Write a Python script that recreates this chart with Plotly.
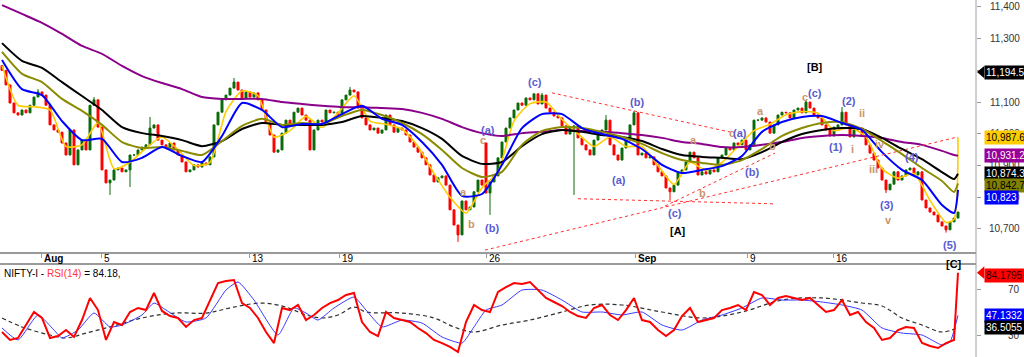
import plotly.graph_objects as go

# ---------------- data (hourly candles, index 0..239) ----------------
closes = [
    11200, 11154, 11097, 11066, 11059, 11075, 11066, 11090, 11116, 11132,
    11122, 11090, 11028, 11012, 11005, 10971, 10933, 11012, 10902, 10949,
    10980, 10949, 11090, 11107, 11021, 10886, 10845, 10854, 10886, 10892,
    10880, 10886, 10933, 10933, 10949, 10958, 10965, 11018, 11028, 10980,
    10965, 10958, 10971, 10949, 10933, 10911, 10880, 10886, 10902, 10895,
    10908, 10902, 10927, 11028, 11068, 11107, 11122, 11144, 11163, 11138,
    11113, 11132, 11116, 11129, 11107, 11075, 11034, 10996, 10942, 10949,
    11002, 11043, 11031, 11068, 11081, 11059, 11043, 10949, 11012, 11043,
    11037, 11075, 11066, 11068, 11059, 11107, 11122, 11138, 11132, 11081,
    11050, 11028, 11012, 11018, 11002, 11012, 11059, 11028, 11005, 11018,
    11012, 10996, 10974, 10958, 10942, 10924, 10902, 10870, 10848, 10861,
    10867, 10838, 10760, 10712, 10681, 10788, 10760, 10769, 10817, 10854,
    10838, 10813, 10848, 10867, 10924, 10974, 11018, 11050, 11075, 11097,
    11090, 11113, 11107, 11126, 11094, 11122, 11081, 11068, 11056, 11050,
    11025, 10999, 11018, 11025, 10987, 10965, 10949, 10933, 10980, 10996,
    11012, 11043, 10965, 10933, 10917, 10955, 10980, 11028, 11066, 10933,
    10939, 10924, 10927, 10902, 10880, 10867, 10829, 10817, 10838, 10880,
    10886, 10911, 10942, 10924, 10870, 10880, 10873, 10886, 10880, 10924,
    10933, 10955, 10949, 10971, 10965, 10980, 10949, 10965, 11043, 11043,
    11050, 11037, 11002, 11028, 11059, 11068, 11066, 11050, 11075, 11081,
    11066, 11100, 11081, 11059, 11050, 11028, 11012, 10993, 11021, 11028,
    11068, 11028, 10990, 11012, 11018, 10996, 10965, 10939, 10917, 10892,
    10854, 10823, 10841, 10880, 10854, 10867, 10886, 10892, 10870, 10880,
    10791, 10766, 10753, 10744, 10722, 10709, 10697, 10722, 10734, 10753,
]
first_open = 11215
open_override = {121: 10971}
high_override = {9: 11141, 23: 11116, 37: 11053, 58: 11176, 87: 11148, 135: 11129,
                 151: 11059, 158: 11072, 201: 11107, 210: 11084}
low_override = {27: 10807, 32: 10832, 114: 10659, 122: 10744, 143: 10807,
                167: 10791, 221: 10813, 236: 10688}

# moving averages sampled every 5 candles (+ last two)
ma_idx = list(range(0, 240, 5)) + [238, 239]
ma_blue = [11233, 11141, 11122, 11040, 10980, 10984, 10911, 10924, 10958, 10930,
           10911, 10993, 11097, 11075, 11021, 11031, 11031, 11062, 11088, 11047,
           11028, 10974, 10902, 10804, 10810, 10902, 11018, 11062, 11062, 11018,
           10999, 10984, 10952, 10902, 10876, 10886, 10898, 10930, 11006, 11037,
           11053, 11056, 11034, 11012, 10942, 10886, 10854, 10775, 10750, 10823]
ma_olive = [11258, 11189, 11163, 11110, 11072, 11028, 10974, 10955, 10958, 10946,
            10933, 10977, 11025, 11047, 11028, 11034, 11031, 11056, 11075, 11059,
            11034, 10999, 10949, 10892, 10864, 10880, 10965, 11009, 11021, 11018,
            11006, 10990, 10968, 10939, 10917, 10908, 10902, 10917, 10952, 10993,
            11018, 11034, 11037, 11015, 10977, 10936, 10892, 10851, 10816, 10843]
ma_black = [11286, 11230, 11208, 11163, 11119, 11075, 11021, 11002, 10993, 10980,
            10961, 10977, 11015, 11034, 11028, 11028, 11028, 11037, 11056, 11050,
            11040, 11018, 10984, 10930, 10905, 10911, 10961, 10999, 11012, 11006,
            10996, 10990, 10977, 10952, 10933, 10927, 10924, 10920, 10942, 10974,
            10999, 11012, 11018, 11015, 10987, 10952, 10920, 10879, 10857, 10874]
ma_purple = [11406, 11378, 11350, 11315, 11277, 11252, 11214, 11182, 11160, 11141,
             11116, 11110, 11110, 11110, 11100, 11094, 11088, 11084, 11084, 11081,
             11078, 11066, 11047, 11021, 11002, 10993, 11002, 11006, 11012, 11009,
             11006, 11002, 10996, 10987, 10974, 10968, 10958, 10958, 10965, 10974,
             10987, 10993, 10996, 10993, 10987, 10974, 10965, 10946, 10933, 10931]

yellow_idx = list(range(0, 240, 4)) + [238, 239]
ma_yellow = [11215, 11090, 11085, 11075, 10960, 10965, 11035, 10890, 10910, 10955,
             10990, 10950, 10900, 10910, 11070, 11135, 11120, 10990, 11010, 11055,
             11020, 11065, 11120, 11040, 11030, 11015, 10960, 10875, 10800, 10750,
             10830, 10880, 11040, 11095, 11100, 11045, 11000, 10960, 10990, 10960,
             10960, 10900, 10840, 10910, 10885, 10910, 10960, 11010, 11030, 11060,
             11070, 11065, 11010, 11020, 10990, 10890, 10860, 10875, 10790, 10720,
             10730, 10988]

# RSI(14) every 2 candles + last
rsi_idx = list(range(0, 240, 2)) + [239]
rsi = [32.6, 25.7, 27.4, 38.7, 50, 44.8, 27.4, 29.1, 34.3, 28.3,
       43, 62.2, 51.7, 25.7, 41.3, 38.7, 50, 53.5, 51.7, 66.5,
       50.9, 46.5, 44.8, 37, 43, 44.8, 60.4, 75.2, 77, 77.8,
       57.8, 53.5, 44.8, 32.6, 23, 53.5, 51.7, 56.1, 43, 47.4,
       53.5, 57.8, 60.4, 64.8, 66.5, 41.3, 32.6, 29.1, 50, 44.8,
       43, 41.3, 36.1, 31.7, 25.7, 23, 19.6, 15.2, 41.3, 56.1,
       51.7, 50, 67.4, 71.7, 75.2, 74.3, 76.1, 69.1, 62.2, 58.7,
       55.2, 50, 46.5, 44.8, 53.5, 56.1, 47.4, 43, 51.7, 62.2,
       43, 41.3, 34.3, 29.1, 34.3, 46.5, 53.5, 41.3, 43, 44.8,
       51.7, 53.5, 56.1, 51.7, 67.4, 64.8, 56.1, 62.2, 63.9, 62.2,
       60.4, 62.2, 56.1, 50, 51.7, 60.4, 47.4, 50, 41.3, 36.1,
       25.7, 27.4, 34.3, 37, 36.1, 23, 20.4, 18.7, 23, 25.7,
       84.18]
sig_idx = [0, 4, 9, 13, 15, 19, 23, 27, 30, 35, 38, 41, 46, 51, 56, 59, 63, 69, 73, 76,
           79, 83, 88, 91, 95, 100, 105, 110, 115, 118, 121, 125, 130, 135, 140, 145, 150,
           155, 160, 165, 170, 175, 180, 185, 190, 195, 200, 205, 210, 215, 220, 225, 230,
           235, 237, 239]
rsi_sig = [36.1, 25.7, 47.4, 34.3, 27.4, 34.3, 49.1, 37, 38.7, 47.4,
           57.8, 51.7, 41.3, 44.8, 69.1, 76.1, 60.4, 30, 53.5, 49.1,
           43, 53.5, 63, 51.7, 37, 43, 40.4, 28.3, 23, 37,
           51.7, 56.1, 69.1, 69.1, 60.4, 50, 50, 47.4, 50, 38.7,
           34.3, 43, 47.4, 53.5, 62.2, 60.4, 60.4, 58.7, 56.1, 51.7,
           36.1, 31.7, 30, 21.3, 24, 47.13]
slow_idx = [0, 5, 12, 16, 21, 27, 35, 43, 51, 58, 65, 71, 76, 80, 84, 88, 91, 100, 108, 113,
            118, 125, 132, 140, 147, 155, 165, 175, 185, 195, 205, 215, 220, 225, 230, 235, 239]
rsi_slow = [44.8, 37, 30, 27.4, 31.7, 37, 44.8, 49.1, 49.1, 54.3,
            57.8, 54.3, 47.4, 44.8, 47.4, 54.3, 50, 49.1, 44.8, 37,
            32.6, 38.7, 43, 50, 56.1, 56.1, 50, 44.8, 50, 60.4,
            62.2, 57.8, 55.2, 44.8, 38.7, 32.6, 36.51]

date_ticks = [9.75, 24.75, 61.75, 84.25, 121, 158.25, 186.25, 207.75]
date_labels = ["Aug", "5", "13", "19", "26", "Sep", "9", "16"]
price_ticks = [10700, 10800, 10900, 11000, 11100, 11200, 11300, 11400]
rsi_ticks = [30, 70]

# Elliott wave labels: (index, price, text, kind)
waves = [
    (133.25, 11163, "(c)", "m"), (121.5, 11012, "(a)", "m"), (120.25, 10980, "c", "s"),
    (115.25, 10816, "a", "s"), (117.25, 10715, "b", "s"), (122.5, 10703, "(b)", "m"),
    (158.75, 11100, "(b)", "m"), (154.25, 10854, "(a)", "m"), (168.25, 10750, "(c)", "m"),
    (169, 10693, "[A]", "M"), (203.25, 11211, "[B]", "M"), (200.75, 11116, "c", "s"),
    (203.25, 11129, "(c)", "m"), (211.75, 11103, "(2)", "m"), (215, 11066, "ii", "s"),
    (189.5, 11072, "a", "s"), (172.75, 10980, "a", "s"), (182.5, 11002, "c", "s"),
    (184.5, 11002, "(a)", "m"), (192.5, 10961, "b", "s"), (187.5, 10879, "(b)", "m"),
    (175, 10813, "b", "s"), (208.5, 10958, "(1)", "m"), (212.5, 10952, "i", "s"),
    (219.5, 10968, "iv", "s"), (227.5, 10927, "(4)", "m"), (217.75, 10889, "iii", "s"),
    (221.25, 10775, "(3)", "m"), (221.5, 10728, "v", "s"), (237, 10649, "(5)", "m"),
]
# dashed trend lines: (idx0, price0, idx1, price1)
trendlines = [
    (137.5, 11129, 183.25, 11002),
    (144, 10795, 193.25, 10779),
    (120.75, 10633, 239, 10990),
    (165.75, 10772, 193.25, 10939),
]
# right-side value tags: (value, text, bg, fg, arrow, yshift)
price_tags = [
    (11194.5, "11,194.5", "#000000", "#ffffff", True, 0),
    (10987.6, "10,987.6", "#ffcc00", "#000000", False, 0),
    (10931.2, "10,931.2", "#990099", "#ffffff", False, 0),
    (10874.3, "10,874.3", "#000000", "#ffffff", False, 0),
    (10842.7, "10,842.7", "#808000", "#000000", False, -2),
    (10823.0, "10,823", "#0000ff", "#ffffff", False, -8),
]
rsi_tags = [
    (84.1795, "84.1795", "#ff0000", "#300000", True, -3),
    (47.1332, "47.1332", "#0000ff", "#ffffff", False, 0),
    (36.5055, "36.5055", "#000000", "#ffffff", False, 0),
]

# ---------------- build OHLC ----------------
opens = [first_open] + closes[:-1]
for k, v in open_override.items():
    opens[k] = v
highs = [high_override.get(i, max(o, c)) for i, (o, c) in enumerate(zip(opens, closes))]
lows = [low_override.get(i, min(o, c)) for i, (o, c) in enumerate(zip(opens, closes))]
idx = list(range(len(closes)))

FONT = "Liberation Sans, Arial, sans-serif"
fig = go.Figure()

fig.add_trace(go.Scatter(x=yellow_idx, y=ma_yellow, mode="lines", line=dict(color="#ffcc00", width=1.6, shape="spline", smoothing=0.6),
                         xaxis="x", yaxis="y", showlegend=False, hoverinfo="skip"))
fig.add_trace(go.Candlestick(x=idx, open=opens, high=highs, low=lows, close=closes,
                             increasing=dict(line=dict(color="#0b6b0b", width=1), fillcolor="#0b6b0b"),
                             decreasing=dict(line=dict(color="#ff0000", width=1), fillcolor="#ff0000"),
                             whiskerwidth=0, xaxis="x", yaxis="y", showlegend=False, hoverinfo="skip"))
for vals, col in [(ma_purple, "#8b008b"), (ma_black, "#000000"), (ma_olive, "#8b8b00"), (ma_blue, "#0000ff")]:
    fig.add_trace(go.Scatter(x=ma_idx, y=vals, mode="lines", line=dict(color=col, width=2, shape="spline", smoothing=0.6),
                             xaxis="x", yaxis="y", showlegend=False, hoverinfo="skip"))

fig.add_trace(go.Scatter(x=slow_idx, y=rsi_slow, mode="lines", line=dict(color="#303030", width=1.2, dash="4px,3px", shape="spline"),
                         xaxis="x2", yaxis="y2", showlegend=False, hoverinfo="skip"))
fig.add_trace(go.Scatter(x=sig_idx, y=rsi_sig, mode="lines", line=dict(color="#3a3aff", width=1, shape="spline", smoothing=0.5),
                         xaxis="x2", yaxis="y2", showlegend=False, hoverinfo="skip"))
fig.add_trace(go.Scatter(x=rsi_idx, y=rsi, mode="lines", line=dict(color="#ff0000", width=2),
                         xaxis="x2", yaxis="y2", showlegend=False, hoverinfo="skip"))

shapes = []
for x0, y0, x1, y1 in trendlines:
    shapes.append(dict(type="line", xref="x", yref="y", x0=x0, y0=y0, x1=x1, y1=y1,
                       line=dict(color="#ff3030", width=1, dash="dot")))
# right border line
shapes.append(dict(type="line", xref="paper", yref="paper", x0=1, x1=1, y0=0, y1=1,
                   line=dict(color="#a0a0a0", width=1)))

annotations = []
# x date labels
for t, lab in zip(date_ticks, date_labels):
    bold = not lab.isdigit()
    annotations.append(dict(x=t, xref="x", y=0.2773, yref="paper", text=("<b>%s</b>" % lab) if bold else lab,
                            showarrow=False, xanchor="left", yanchor="middle", xshift=1,
                            font=dict(family=FONT, size=10, color="#000000")))
# price tick labels
for p in price_ticks:
    annotations.append(dict(x=1.0471, xref="paper", y=p, yref="y", text=f"{p:,}", showarrow=False,
                            xanchor="right", yanchor="middle", font=dict(family=FONT, size=10, color="#333333")))
for r in rsi_ticks:
    annotations.append(dict(x=1.0471, xref="paper", y=r, yref="y2", text=str(r), showarrow=False,
                            xanchor="right", yanchor="middle", font=dict(family=FONT, size=10, color="#333333")))
# value tags
for tags, yr, half in [(price_tags, "y", 19), (rsi_tags, "y2", 5.5)]:
    for val, txt, bg, fg, arrow, ysh in tags:
        annotations.append(dict(x=0.0084 + 1, xref="paper", y=val, yref=yr, text=txt, showarrow=False,
                                xanchor="left", yanchor="middle", yshift=ysh, bgcolor=bg, borderpad=1,
                                font=dict(family=FONT, size=10, color=fg)))
        if arrow:
            shapes.append(dict(type="path", xref="paper", yref=yr,
                               path=f"M 1.0010,{val} L 1.0085,{val + half} L 1.0085,{val - half} Z",
                               fillcolor=bg, line=dict(width=0)))
# wave labels
for xi, yv, txt, kind in waves:
    col = {"m": "#5a5ad2", "s": "#c8966e", "M": "#000000"}[kind]
    annotations.append(dict(x=xi, xref="x", y=yv, yref="y", text=f"<b>{txt}</b>", showarrow=False,
                            xanchor="center", yanchor="middle", font=dict(family=FONT, size=11, color=col)))
annotations.append(dict(x=238, xref="x", y=1 - 264 / 357, yref="paper", text="<b>[C]</b>", showarrow=False,
                        xanchor="center", yanchor="middle", font=dict(family=FONT, size=11, color="#000000")))
# RSI header
annotations.append(dict(x=0.002, xref="paper", y=1 - 273 / 357, yref="paper",
                        text="NIFTY-I - <span style='color:#ff3333'>RSI(14)</span> = 84.18,",
                        showarrow=False, xanchor="left", yanchor="middle",
                        font=dict(family=FONT, size=10, color="#000000")))

fig.update_layout(
    width=1024, height=357, margin=dict(l=0, r=48, t=0, b=0),
    paper_bgcolor="#ffffff", plot_bgcolor="#ffffff", showlegend=False,
    xaxis=dict(domain=[0, 1], range=[-0.5, 243.5], anchor="y", showgrid=False, zeroline=False,
               showline=True, linecolor="#9a9a9a", linewidth=1.5, ticks="outside", ticklen=4,
               tickcolor="#9a9a9a", tickvals=date_ticks, showticklabels=False,
               rangeslider=dict(visible=False)),
    xaxis2=dict(domain=[0, 1], range=[-0.5, 243.5], anchor="y2", side="top", showgrid=False,
                zeroline=False, showline=True, linecolor="#9a9a9a", linewidth=1.5,
                showticklabels=False, ticks=""),
    yaxis=dict(domain=[1 - 252 / 357, 1], range=[10627, 11422], side="right", anchor="x",
               showgrid=False, zeroline=False, showline=False, ticks="outside", ticklen=4,
               tickcolor="#9a9a9a", tickvals=price_ticks, showticklabels=False),
    yaxis2=dict(domain=[0, 1 - 265 / 357], range=[10.87, 90.87], side="right", anchor="x2",
                showgrid=False, zeroline=False, showline=False, ticks="outside", ticklen=4,
                tickcolor="#9a9a9a", tickvals=rsi_ticks, showticklabels=False),
    shapes=shapes, annotations=annotations,
)

fig.write_html("out.html", config={"displayModeBar": False},
               post_script="document.body.style.margin='0';document.body.style.overflow='hidden';")
